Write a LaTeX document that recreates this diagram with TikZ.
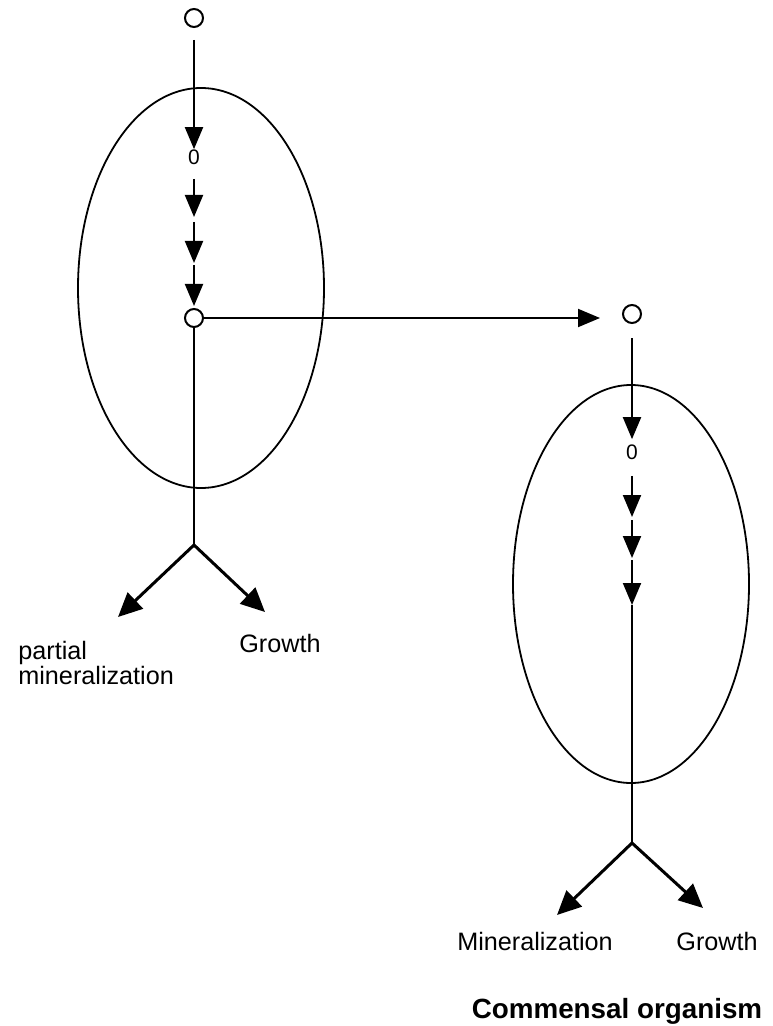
\documentclass[tikz,border=0pt]{standalone}
\usepackage{fontspec}
\setmainfont{Liberation Sans}
\usepackage{tikz}
\usetikzlibrary{arrows.meta,shapes.geometric,positioning}

\begin{document}
\begin{tikzpicture}[x=0.5pt,y=-0.5pt,
  dot/.style={draw,circle,line width=1pt,minimum size=9pt,inner sep=0pt},
  inter/.style={inner sep=0pt,font=\fontsize{10.5}{10.5}\selectfont},
  cell/.style={draw,ellipse,line width=0.9pt,inner sep=0pt},
  flow/.style={line width=1pt,-{Triangle[length=11pt,width=9pt]}},
  bigflow/.style={line width=1.5pt,-{Triangle[length=12pt,width=11pt]}},
  lbl/.style={inner sep=0pt,font=\fontsize{12.6}{12.6}\selectfont}]
\useasboundingbox (0,0) rectangle (772,1026);
% the two cells
\node[cell,minimum width=123pt,minimum height=200pt] (cellA) at (201,288) {};
\node[cell,minimum width=118pt,minimum height=199pt] (cellB) at (631,584) {};
% first organism
\node[dot] (srcA) at (194,18) {};
\node[inter] (intA) at (194,157) {0};
\coordinate (stepA1) at (194,217);
\coordinate (stepA2) at (194,263);
\node[dot] (hubA) at (194,318) {};
\coordinate (forkA) at (194,545);
\coordinate (endA1) at (118,617);
\coordinate (endA2) at (265,612);
\draw[flow,shorten <=6pt] (srcA) -- (intA);
\draw[flow,shorten <=7pt] (intA) -- (stepA1);
\draw[flow,shorten <=2.5pt] (stepA1) -- (stepA2);
\draw[flow,shorten <=1pt,shorten >=1pt] (stepA2) -- (hubA);
\draw[line width=1pt] (hubA) -- (forkA);
\draw[bigflow] (forkA) -- (endA1);
\draw[bigflow] (forkA) -- (endA2);
% second organism
\node[dot] (tgtB) at (632,314) {};
\node[inter] (intB) at (632,452) {0};
\coordinate (stepB1) at (632,517);
\coordinate (stepB2) at (632,558);
\coordinate (stepB3) at (632,605);
\coordinate (forkB) at (632,843);
\coordinate (endB1) at (557,915);
\coordinate (endB2) at (703,908);
\draw[flow,shorten >=16pt] (hubA) -- (hubA -| tgtB);
\draw[flow,shorten <=7pt,shorten >=2.5pt] (tgtB) -- (intB);
\draw[flow,shorten <=8pt] (intB) -- (stepB1);
\draw[flow,shorten <=1.5pt] (stepB1) -- (stepB2);
\draw[flow,shorten <=1pt] (stepB2) -- (stepB3);
\draw[line width=1pt] (stepB3) -- (forkB);
\draw[bigflow] (forkB) -- (endB1);
\draw[bigflow] (forkB) -- (endB2);
% labels
\node[lbl,align=left,anchor=north west] (partA) at (18,641) {partial\\mineralization};
\node[lbl] (growA) at (280,643) {Growth};
\node[lbl] (minB) at (535,941) {Mineralization};
\node[lbl] (growB) at (717,941) {Growth};
\node[lbl,font=\fontsize{13.9}{13.9}\selectfont\bfseries] (title) at (617,1011) {Commensal organism};
\end{tikzpicture}
\end{document}
